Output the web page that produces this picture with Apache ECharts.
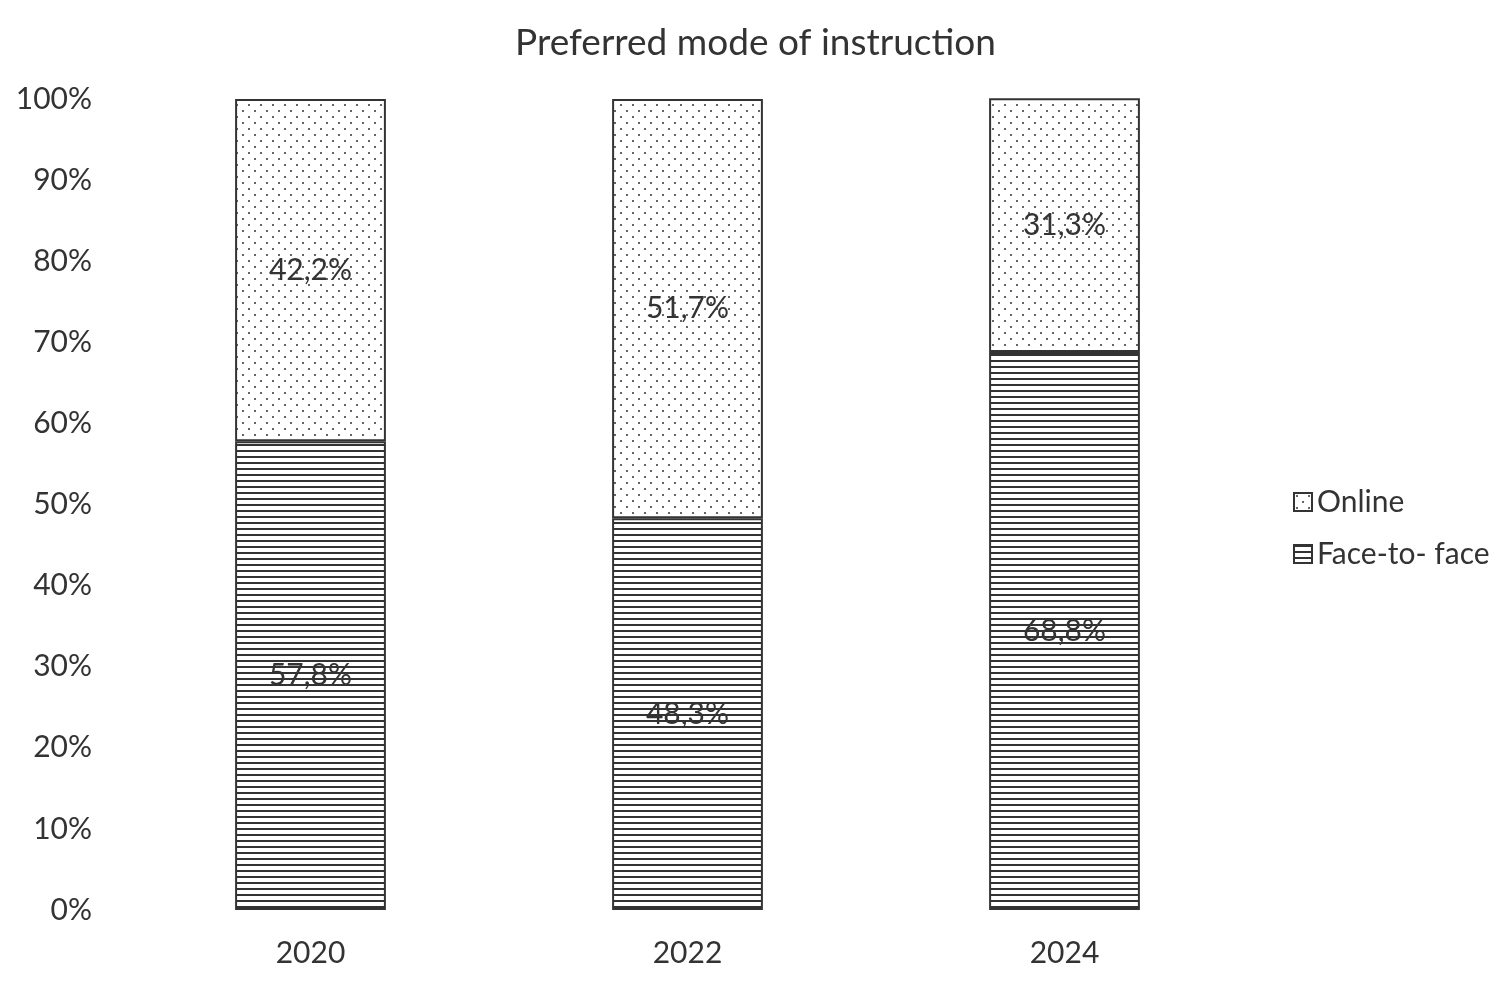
<!DOCTYPE html>
<html><head><meta charset="utf-8">
<script src="https://cdn.jsdelivr.net/npm/echarts@6/dist/echarts.min.js"></script>
<style>html,body{margin:0;padding:0;background:#fff}#c{width:1511px;height:988px}</style>
</head><body><div id="c"></div>
<script>
const categories = ['2020', '2022', '2024'];
const faceToFace = [57.8, 48.3, 68.8];
const online = [42.2, 51.7, 31.3];
const yTicks = [0, 10, 20, 30, 40, 50, 60, 70, 80, 90, 100];

function linesPattern() {
  const c = document.createElement('canvas');
  c.width = 8; c.height = 6;
  const g = c.getContext('2d');
  g.fillStyle = '#fff'; g.fillRect(0, 0, 8, 6);
  g.fillStyle = '#333'; g.fillRect(0, 0, 8, 2);
  return c;
}
function dotsPattern() {
  const c = document.createElement('canvas');
  c.width = 12; c.height = 12;
  const g = c.getContext('2d');
  g.fillStyle = '#fff'; g.fillRect(0, 0, 12, 12);
  g.fillStyle = '#666';
  g.fillRect(2, 2, 2, 2);
  g.fillRect(8, 8, 2, 2);
  return c;
}
const FONT = 'Lato';
const chart = echarts.init(document.getElementById('c'));
const lbl = {show: true, position: 'inside', color: '#333', fontFamily: FONT, fontSize: 30,
  formatter: p => p.value.toFixed(1).replace('.', ',') + '%'};
chart.setOption({
  animation: false,
  backgroundColor: '#fff',
  title: {text: 'Preferred mode of instruction', left: 'center', top: 20,
    textStyle: {fontFamily: FONT, fontSize: 37, fontWeight: 'normal', color: '#333'}},
  grid: {left: 122, right: 258, top: 99, bottom: 78},
  legend: {orient: 'vertical', left: 1288, top: 482, itemWidth: 18, itemHeight: 18, itemGap: 22,
    icon: 'rect',
    textStyle: {fontFamily: FONT, fontSize: 30, color: '#333'},
    data: ['Online', 'Face-to- face']},
  xAxis: {type: 'category', data: categories, axisLine: {show: false}, axisTick: {show: false},
    axisLabel: {fontFamily: FONT, fontSize: 30, color: '#333', margin: 28}},
  yAxis: {type: 'value', min: 0, max: 100, interval: 10, splitLine: {show: false},
    axisLine: {show: false}, axisTick: {show: false},
    axisLabel: {fontFamily: FONT, fontSize: 30, color: '#333', margin: 30, formatter: v => v + '%'}},
  series: [
    {name: 'Face-to- face', type: 'bar', stack: 's', barWidth: '40%', data: faceToFace,
      itemStyle: {color: {image: linesPattern(), repeat: 'repeat'}, borderColor: '#333', borderWidth: 2}, label: lbl},
    {name: 'Online', type: 'bar', stack: 's', barWidth: '40%', data: online,
      itemStyle: {color: {image: dotsPattern(), repeat: 'repeat'}, borderColor: '#333', borderWidth: 2}, label: lbl}
  ]
});
</script></body></html>
